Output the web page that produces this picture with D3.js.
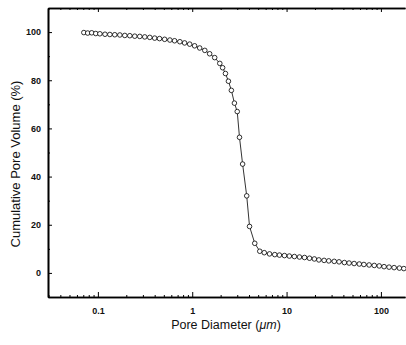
<!DOCTYPE html>
<html>
<head>
<meta charset="utf-8">
<script src="https://cdn.jsdelivr.net/npm/d3@7"></script>
<style>
  body { margin: 0; background: #fff; }
  svg { display: block; font-family: "Liberation Sans", Arial, sans-serif; }
  .axis path, .axis line { stroke: #000; }
  .axis text { font-size: 9px; fill: #111; }
</style>
</head>
<body>
<div id="chart"></div>
<script>
// pore diameter (um) and cumulative pore volume (%)
var diameters = [0.071, 0.078, 0.086, 0.095, 0.105, 0.119, 0.134, 0.151, 0.171, 0.193,
  0.218, 0.246, 0.278, 0.314, 0.355, 0.40, 0.45, 0.51, 0.58, 0.65,
  0.74, 0.83, 0.94, 1.06, 1.20, 1.36, 1.53, 1.73, 1.96, 2.10,
  2.25, 2.42, 2.60, 2.80, 3.00, 3.17, 3.42, 3.78, 4.05, 4.60,
  5.2, 5.8, 6.6, 7.5, 8.4, 9.5, 10.7, 12.1, 13.7, 15.5,
  17.5, 19.7, 22, 25, 28, 32, 36, 41, 46, 52,
  59, 66, 75, 85, 96, 108, 122, 138, 157, 175];
var cumVolume = [99.8, 99.6, 99.7, 99.4, 99.3, 99.1, 99.0, 98.9, 98.8, 98.6,
  98.5, 98.3, 98.2, 98.0, 97.8, 97.5, 97.3, 97.0, 96.7, 96.4,
  96.0, 95.5, 95.0, 94.3, 93.4, 92.4, 91.0, 89.4, 87.0, 85.2,
  82.8, 79.6, 75.8, 70.5, 67.0, 56.3, 45.2, 32.0, 19.3, 12.3,
  9.0, 8.4, 7.9, 7.6, 7.4, 7.2, 7.0, 6.8, 6.6, 6.4,
  6.1, 5.8, 5.4, 5.2, 5.0, 4.8, 4.6, 4.3, 4.1, 3.9,
  3.7, 3.5, 3.3, 3.1, 2.9, 2.6, 2.4, 2.2, 2.0, 1.8];
var xTickVals = [0.1, 1, 10, 100];
var xTickLabels = ["0.1", "1", "10", "100"];
var yTickVals = [0, 20, 40, 60, 80, 100];

var W = 406, H = 345;
var mLeft = 48, mRight = 405, mTop = 8, mBottom = 297;

var svg = d3.select("#chart").append("svg")
    .attr("width", W).attr("height", H);

var x = d3.scaleLog().domain([0.0296, 180]).range([mLeft, mRight]);
var y = d3.scaleLinear().domain([-10, 110]).range([mBottom, mTop]);

// minor ticks 2..9 per decade
var xMinor = [];
[0.01, 0.1, 1, 10, 100].forEach(function(dec) {
  for (var k = 2; k <= 9; k++) {
    var v = dec * k;
    if (v > 0.0296 && v < 180) xMinor.push(v);
  }
});
var yMinor = [-10, 10, 30, 50, 70, 90, 110];

// bottom axis
var gx = svg.append("g").attr("class", "axis")
    .attr("transform", "translate(0," + mBottom + ")");
gx.call(d3.axisBottom(x).tickValues(xMinor).tickSizeInner(-2).tickSizeOuter(0).tickFormat(""));
gx.append("g").call(d3.axisBottom(x).tickValues(xTickVals).tickSizeInner(-5).tickSizeOuter(0)
    .tickPadding(11).tickFormat(function(d, i) { return xTickLabels[i]; }));
gx.selectAll("path.domain").attr("stroke-width", 1.6);

// top axis
var gt = svg.append("g").attr("class", "axis")
    .attr("transform", "translate(0," + mTop + ")");
gt.call(d3.axisTop(x).tickValues(xMinor).tickSizeInner(-2).tickSizeOuter(0).tickFormat(""));
gt.append("g").call(d3.axisTop(x).tickValues(xTickVals).tickSizeInner(-4).tickSizeOuter(0).tickFormat(""));
gt.selectAll("path.domain").attr("stroke-width", 1.4);

// left axis
var gy = svg.append("g").attr("class", "axis")
    .attr("transform", "translate(" + mLeft + ",0)");
gy.call(d3.axisLeft(y).tickValues(yMinor).tickSizeInner(-2).tickSizeOuter(0).tickFormat(""));
gy.append("g").call(d3.axisLeft(y).tickValues(yTickVals).tickSizeInner(-4).tickSizeOuter(0)
    .tickPadding(7));
gy.selectAll("path.domain").attr("stroke-width", 1.6);
gy.selectAll("text").attr("font-weight", "bold").attr("font-size", "9.5px");
gx.selectAll("text").attr("font-weight", "bold").attr("font-size", "9.5px");

// data
var data = diameters.map(function(d, i) { return { d: d, v: cumVolume[i] }; });

var line = d3.line()
    .x(function(p) { return x(p.d); })
    .y(function(p) { return y(p.v); });

svg.append("path")
    .datum(data)
    .attr("fill", "none")
    .attr("stroke", "#000")
    .attr("stroke-width", 0.8)
    .attr("d", line);

svg.append("g").selectAll("circle")
    .data(data)
  .enter().append("circle")
    .attr("cx", function(p) { return x(p.d); })
    .attr("cy", function(p) { return y(p.v); })
    .attr("r", 2.3)
    .attr("fill", "#fff")
    .attr("stroke", "#000")
    .attr("stroke-width", 0.8);

// axis titles
var xt = svg.append("text")
    .attr("x", 226).attr("y", 329)
    .attr("text-anchor", "middle")
    .attr("font-size", "12.5px")
    .attr("fill", "#111")
    .text("Pore Diameter (");
xt.append("tspan").attr("font-style", "italic").text("\u03bcm");
xt.append("tspan").text(")");

svg.append("text")
    .attr("transform", "translate(20," + 164 + ") rotate(-90)")
    .attr("text-anchor", "middle")
    .attr("font-size", "13px")
    .attr("fill", "#111")
    .text("Cumulative Pore Volume (%)");
</script>
</body>
</html>
